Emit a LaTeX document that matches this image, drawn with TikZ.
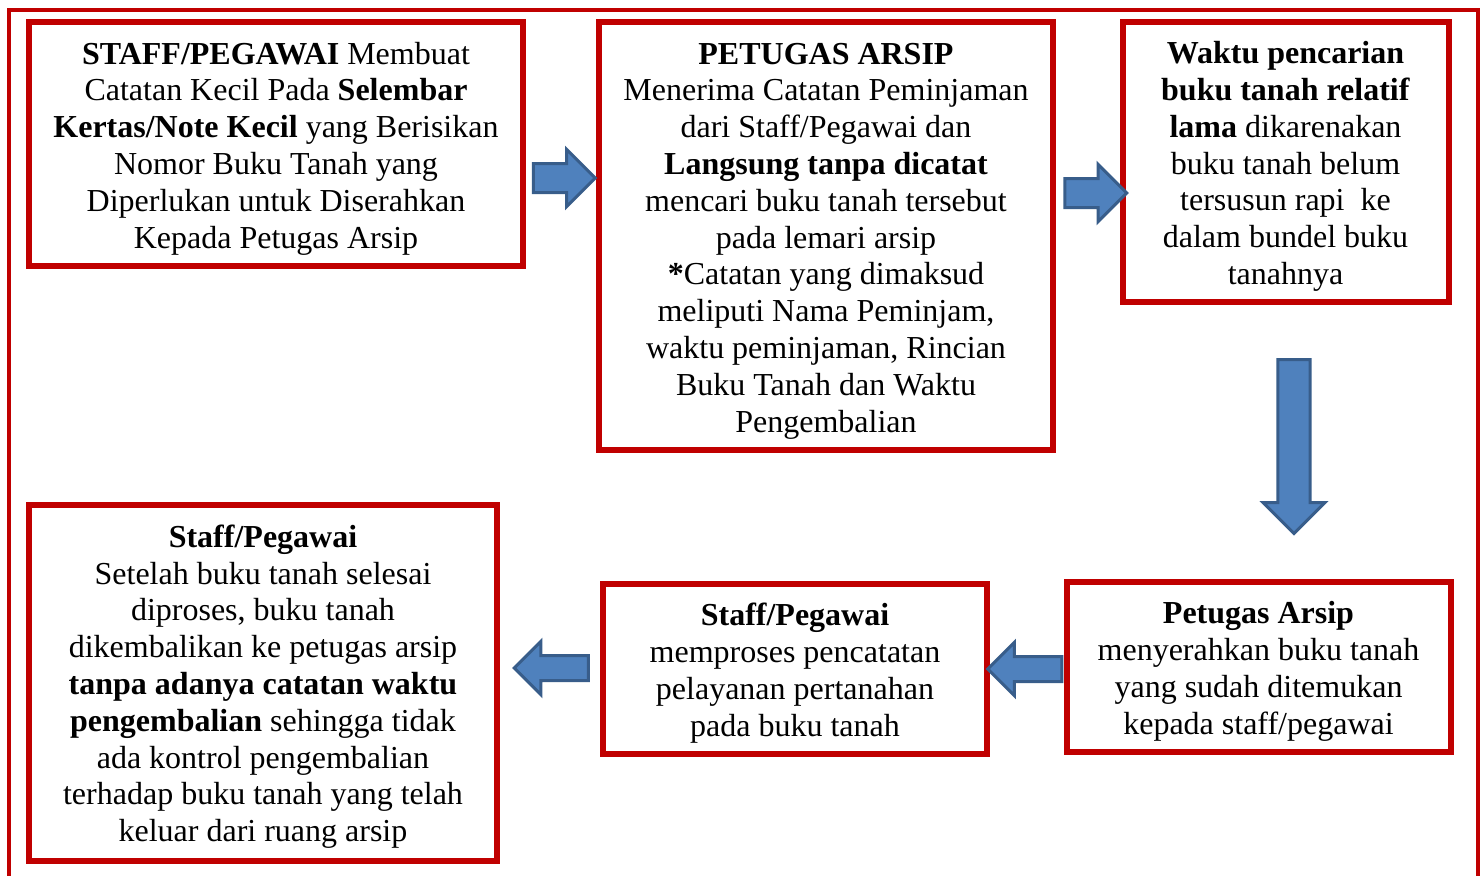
\documentclass[tikz,border=0pt]{standalone}
\usepackage{fontspec}
\setmainfont{Liberation Serif}
\usetikzlibrary{shapes.arrows}

\definecolor{boxred}{RGB}{192,0,0}
\definecolor{arrowfill}{RGB}{79,129,189}
\definecolor{arrowline}{RGB}{56,93,138}

\newcommand{\firstline}{\rule{0pt}{15.5pt}}

\tikzset{
  stepbox/.style={draw=boxred, line width=3pt, fill=white, align=center, inner sep=0pt,
    font=\fontsize{16}{18.4}\selectfont},
  blockarrow/.style={single arrow, draw=arrowline, fill=arrowfill, line width=1.5pt,
    inner xsep=0pt, single arrow tip angle=90}
}

\begin{document}
\begin{tikzpicture}[x=0.5pt,y=0.5pt,yscale=-1,xscale=1]
\useasboundingbox (0,0) rectangle (1484,875);

% outer frame
\draw [draw=boxred, line width=2pt] (9,10) -- (1478,10) -- (1478,900) -- (9,900) -- cycle ;

% boxes, top row
\node [stepbox, minimum width=247pt, minimum height=122pt] (staff) at (276,144)
  {\firstline\textbf{STAFF/PEGAWAI} Membuat\\ Catatan Kecil Pada \textbf{Selembar}\\ \textbf{Kertas/Note Kecil} yang Berisikan\\ Nomor Buku Tanah yang\\ Diperlukan untuk Diserahkan\\ Kepada Petugas Arsip};
\node [stepbox, minimum width=227pt, minimum height=214pt] (petugas) at (826,236)
  {\firstline\textbf{PETUGAS ARSIP}\\ Menerima Catatan Peminjaman\\ dari Staff/Pegawai dan\\ \textbf{Langsung tanpa dicatat}\\ mencari buku tanah tersebut\\ pada lemari arsip\\ \textbf{*}Catatan yang dimaksud\\ meliputi Nama Peminjam,\\ waktu peminjaman, Rincian\\ Buku Tanah dan Waktu\\ Pengembalian};
\node [stepbox, minimum width=163pt, minimum height=140pt] (waktu) at (1285.5,162)
  {\firstline\textbf{Waktu pencarian}\\ \textbf{buku tanah relatif}\\ \textbf{lama} dikarenakan\\ buku tanah belum\\ tersusun rapi~ ke\\ dalam bundel buku\\ tanahnya};

% boxes, bottom row
\node [stepbox, minimum width=192pt, minimum height=85pt] (serah) at (1258.5,667)
  {\firstline\textbf{Petugas Arsip}\\ menyerahkan buku tanah\\ yang sudah ditemukan\\ kepada staff/pegawai};
\node [stepbox, minimum width=192pt, minimum height=85pt] (proses) at (795,669)
  {\firstline\textbf{Staff/Pegawai}\\ memproses pencatatan\\ pelayanan pertanahan\\ pada buku tanah};
\node [stepbox, minimum width=234pt, minimum height=178pt] (kembali) at (263,682.5)
  {\firstline\textbf{Staff/Pegawai}\\ Setelah buku tanah selesai\\ diproses, buku tanah\\ dikembalikan ke petugas arsip\\ \textbf{tanpa adanya catatan waktu}\\ \textbf{pengembalian} sehingga tidak\\ ada kontrol pengembalian\\ terhadap buku tanah yang telah\\ keluar dari ruang arsip};

% block arrows
\node [blockarrow, minimum height=31pt, minimum width=27pt, inner ysep=6.5pt] (a1) at (557,178) {};
\node [blockarrow, minimum height=31pt, minimum width=27pt, inner ysep=6.5pt] (a2) at (1088.5,193) {};
\node [blockarrow, minimum height=87pt, minimum width=31pt, inner sep=7pt, shape border rotate=270] (a3) at (1294,438.5) {};
\node [blockarrow, minimum height=37pt, minimum width=23pt, inner ysep=5.5pt, shape border rotate=180] (a4) at (1031,669) {};
\node [blockarrow, minimum height=37pt, minimum width=23pt, inner ysep=5.5pt, shape border rotate=180] (a5) at (557.5,668) {};

\end{tikzpicture}
\end{document}
